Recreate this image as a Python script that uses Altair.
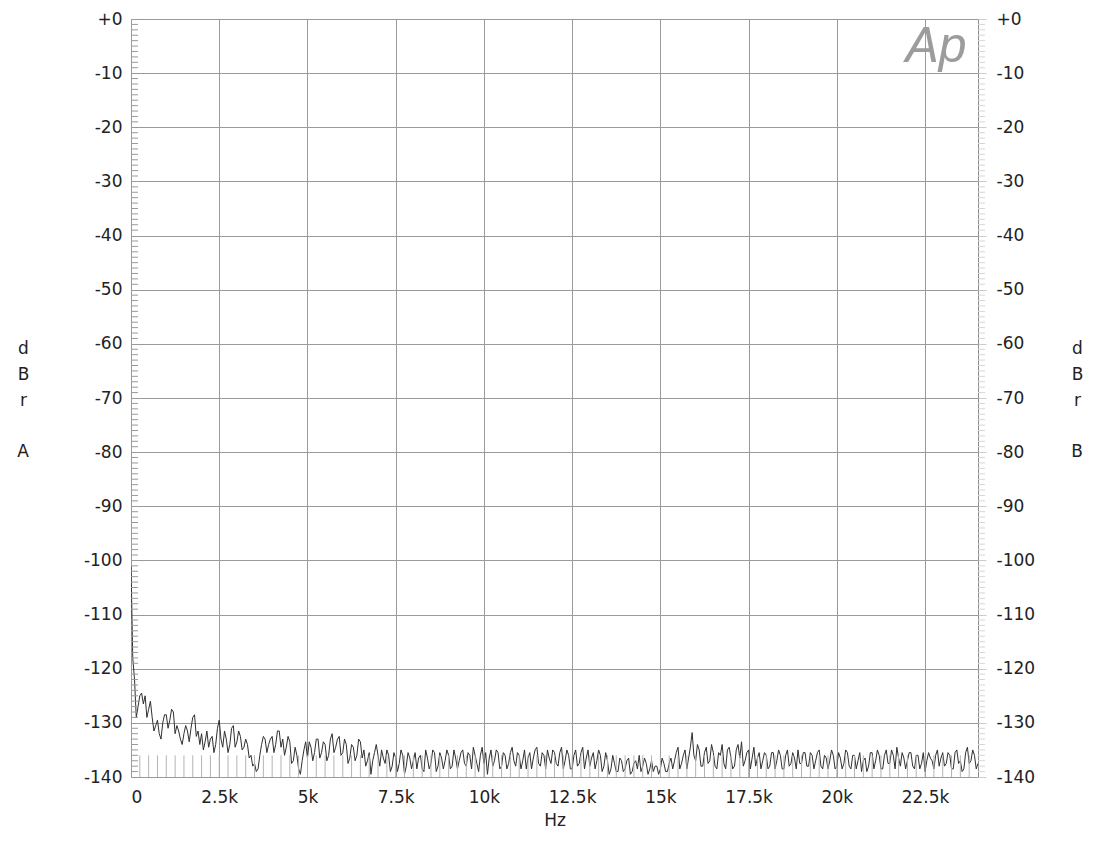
import altair as alt
import pandas as pd

# ---- data (FFT noise floor, dBr A vs Hz) ----
# values at 0, 100, 200 ... 24000 Hz
trace_db = [
    -101, -122, -127, -124.5, -125, -127.5, -129, -130.5, -132, -130,
    -128.5, -129.5, -128, -130.5, -133, -132, -131.5, -131, -128.5, -131.5,
    -132, -133.5, -134.5, -132.5, -134, -129.5, -134.5, -133, -134, -130.5,
    -133.5, -132.5, -134.5, -134, -136, -137.5, -138.5, -134, -133, -134,
    -132.5, -134, -131.5, -133, -134.5, -133.5, -137, -136, -139.5, -135,
    -136.5, -134.5, -135.5, -133, -135.5, -134, -136, -132, -134.5, -132.5,
    -135.5, -134, -136.5, -134.5, -136, -133.5, -135, -137, -139.5, -135.5,
    -136, -135, -137.5, -136, -138, -136.5, -137.5, -136, -138, -136.5,
    -137, -138.5, -136, -139, -136.5, -137.5, -135.5, -138, -136.5, -137,
    -136, -138, -136.5, -137, -135, -138, -136, -134.5, -137.5, -136,
    -137.5, -139.5, -135, -137, -135.5, -138, -136, -137.5, -134.5, -138,
    -136, -137, -138.5, -135.5, -136.5, -134.5, -138, -136, -135, -137.5,
    -135.5, -138, -134.5, -137, -136, -138.5, -135, -137.5, -134.5, -136.5,
    -138, -135.5, -137, -136, -138, -137, -138.5, -137.5, -139, -137,
    -138.5, -136.5, -139, -137, -136, -138, -137.5, -138.5, -139, -138,
    -138.5, -137.5, -139, -136.5, -137, -134.5, -137.5, -135, -136.5, -131.8,
    -137, -135, -138, -134.5, -137, -135.5, -138.5, -136, -137.5, -135,
    -136.5, -138, -134, -133.5, -137, -135, -136.5, -138, -135.5, -137,
    -136, -138, -135.5, -137, -136, -138.5, -135, -137.5, -136.5, -135,
    -137.5, -135.5, -138, -136, -137, -135, -138.5, -136.5, -137, -136,
    -138, -136.5, -137.5, -135.5, -138.5, -136, -137, -139, -136.5, -138,
    -135.5, -137, -136, -138.5, -135, -137.5, -136, -134.5, -138, -136.5,
    -137, -135.5, -138.5, -136, -137.5, -139, -135.5, -137, -136, -138,
    -135.5, -137.5, -136, -138.5, -135, -137, -138.5, -134.5, -137, -136,
    -137.5,
]
# values at 50, 150, 250 ... 23950 Hz
trace_db_mid = [
    -118, -129, -125, -126.5, -129, -126, -131.5, -129.5, -133, -128.5,
    -131, -127.5, -132, -131.5, -134, -130.5, -133.5, -129, -132.5, -134,
    -135, -131.5, -133, -135.5, -131, -133, -131.5, -135.5, -131, -134.5,
    -131.5, -135, -133, -136.5, -138, -139, -136, -132.5, -135.5, -133,
    -135.5, -131.5, -134.5, -136, -132.5, -137.5, -134.5, -138.5, -137, -133.5,
    -133.5, -137, -133, -136.5, -133.5, -137, -133, -135.5, -133, -136,
    -133, -137.5, -134, -137, -133, -136.5, -138, -135.5, -137, -134,
    -138, -136.5, -135, -139, -135.5, -139, -135, -139.5, -135.5, -138.5,
    -135.5, -136.5, -138.5, -135, -138.5, -135, -139, -135.5, -138.5, -135,
    -138.5, -135, -138.5, -135.5, -137.5, -135.5, -138.5, -136, -139, -134.5,
    -135.5, -136.5, -138, -135, -138.5, -135.5, -138.5, -135.5, -137, -135.5,
    -138.5, -135, -136.5, -138.5, -135, -137.5, -135.5, -138.5, -136.5, -135,
    -137.5, -135.5, -138.5, -135, -138.5, -136, -138, -135.5, -138.5, -135,
    -136.5, -138.5, -135, -139, -135.5, -139.5, -136, -139, -136.5, -139,
    -137, -139.5, -137.5, -138.5, -139, -136.5, -139.5, -137, -138, -139.5,
    -136.5, -139, -137.5, -138.5, -135.5, -138.5, -136, -138.5, -134.5, -136,
    -134, -138, -135.5, -137.5, -134, -138, -135.5, -134, -138.5, -134.5,
    -138.5, -135, -136.5, -138, -135.5, -138.5, -134.5, -136.5, -138.5, -135.5,
    -138.5, -135.5, -138.5, -135, -138.5, -136, -138, -135.5, -138.5, -137.5,
    -135.5, -138, -135.5, -138.5, -135.5, -138, -136, -138.5, -135, -138.5,
    -135.5, -138.5, -135, -138, -136, -138.5, -135.5, -137, -139, -135.5,
    -138.5, -135, -138.5, -136, -137.5, -135, -138.5, -136.5, -135.5, -138.5,
    -135.5, -138, -136, -138.5, -135.5, -137, -136.5, -138.5, -135, -136.5,
    -138, -135.5, -138.5, -135.5, -137.5, -139, -135.5, -137.5, -135, -138.5,
]
bin_step_hz = 100
freq_hz = [i * bin_step_hz for i in range(len(trace_db))]
freq_hz_mid = [50 + i * bin_step_hz for i in range(len(trace_db_mid))]

stem_hz = list(range(250, 24000, 250))     # bottom marker stems
stem_top_db = [-136] * len(stem_hz)
stem_bot_db = [-140] * len(stem_hz)

minor_db = [v for v in range(-139, 0) if v % 10 != 0]
y_ticks = list(range(-140, 1, 10))
x_ticks = [0, 2500, 5000, 7500, 10000, 12500, 15000, 17500, 20000, 22500]

trace_df = (
    pd.DataFrame({"hz": freq_hz + freq_hz_mid, "db": trace_db + trace_db_mid})
    .sort_values("hz")
    .reset_index(drop=True)
)
trace_df["order"] = range(len(trace_df))
stem_df = pd.DataFrame({"hz": stem_hz, "db": stem_top_db, "db2": stem_bot_db})
minor_df = pd.DataFrame({"db": minor_db})
logo_df = pd.DataFrame({"t": ["Ap"]})
side_df = pd.DataFrame({"t": ["A"]})
side_df_r = pd.DataFrame({"t": ["B"]})

W, H = 847, 758
FONT = "DejaVu Sans"

x_scale = alt.Scale(domain=[0, 24000], nice=False, zero=False)
y_scale = alt.Scale(domain=[-140, 0], nice=False, zero=False)

x_axis = alt.Axis(
    values=x_ticks,
    labelExpr="datum.value == 0 ? '0' : (datum.value / 1000) + 'k'",
    title="Hz", grid=True, tickSize=0, labelPadding=12, domain=False,
    titleY=43, titleBaseline="middle",
)

left_axis = alt.Axis(
    orient="left", values=y_ticks,
    labelExpr="datum.value == 0 ? '+0' : '' + datum.value",
    title=["d", "B", "r"], titleAngle=0, titleX=-108, titleY=329,
    titleAlign="center", titleBaseline="middle", titleLineHeight=26,
    grid=True, tickSize=0, labelPadding=9, domain=False,
)

right_axis = alt.Axis(
    orient="right", values=y_ticks,
    labelExpr="datum.value == 0 ? '+0' : '' + datum.value",
    title=["d", "B", "r"], titleAngle=0, titleX=99, titleY=329,
    titleAlign="center", titleBaseline="middle", titleLineHeight=26,
    grid=False, tickSize=8, tickColor="#cccccc", labelPadding=10, domain=False,
)

minor_left = alt.Chart(minor_df).mark_rule(color="#9a9a9a", strokeWidth=1).encode(
    x=alt.value(0), x2=alt.value(7),
    y=alt.Y("db:Q", scale=y_scale, axis=None),
)
minor_right = alt.Chart(minor_df).mark_rule(color="#d6d6d6", strokeWidth=1).encode(
    x=alt.value(W), x2=alt.value(W + 7),
    y=alt.Y("db:Q", scale=y_scale, axis=None),
)

stems = alt.Chart(stem_df).mark_rule(color="#b4b4b4", strokeWidth=1).encode(
    x=alt.X("hz:Q", scale=x_scale, axis=x_axis),
    y=alt.Y("db:Q", scale=y_scale, axis=right_axis),
    y2="db2:Q",
)

trace = alt.Chart(trace_df).mark_line(color="#303030", strokeWidth=1, clip=True).encode(
    x=alt.X("hz:Q", scale=x_scale, axis=x_axis),
    y=alt.Y("db:Q", scale=y_scale, axis=left_axis),
    order="order:Q",
)

logo = alt.Chart(logo_df).mark_text(
    font="Liberation Sans", fontSize=50, fontStyle="italic", color="#9c9c9c",
    align="center", baseline="alphabetic",
).encode(text="t:N", x=alt.value(805), y=alt.value(43))

side_style = dict(font=FONT, fontSize=17, color="#222222", align="center", baseline="middle")
side_left = alt.Chart(side_df).mark_text(**side_style).encode(
    text="t:N", x=alt.value(-108), y=alt.value(433)
)
side_right = alt.Chart(side_df_r).mark_text(**side_style).encode(
    text="t:N", x=alt.value(W + 99), y=alt.value(433)
)

chart = (
    alt.layer(trace, stems, minor_left, minor_right, logo, side_left, side_right)
    .resolve_scale(y="independent")
    .properties(
        width=W, height=H,
        autosize=alt.AutoSizeParams(type="none"),
        padding={"left": 123, "top": 11, "right": 106, "bottom": 55},
        background="white",
    )
    .configure_view(stroke="#8a8a8a", strokeWidth=1)
    .configure_axis(
        labelFont=FONT, labelFontSize=17, labelColor="#222222",
        titleFont=FONT, titleFontSize=17, titleFontWeight="normal", titleColor="#222222",
        gridColor="#9a9a9a", gridOpacity=1, gridWidth=1,
    )
)

chart.save("out.html", embed_options={"renderer": "svg", "actions": False})
